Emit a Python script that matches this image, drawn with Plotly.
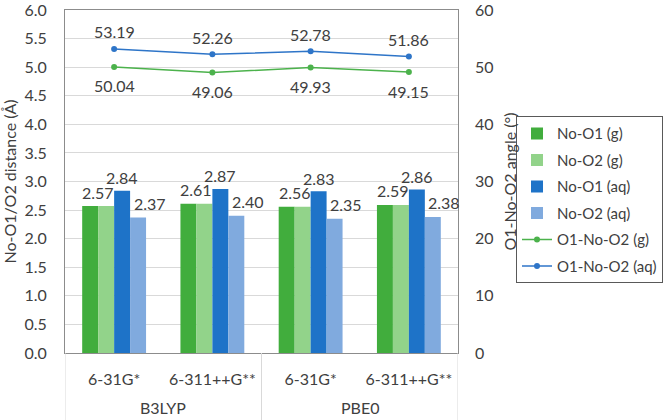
import plotly.graph_objects as go

methods = ["B3LYP", "B3LYP", "PBE0", "PBE0"]
basis = ["6-31G*", "6-311++G**", "6-31G*", "6-311++G**"]
no_o1_g = [2.57, 2.61, 2.56, 2.59]
no_o2_g = [2.57, 2.61, 2.56, 2.59]
no_o1_aq = [2.84, 2.87, 2.83, 2.86]
no_o2_aq = [2.37, 2.40, 2.35, 2.38]
angle_g = [50.04, 49.06, 49.93, 49.15]
angle_aq = [53.19, 52.26, 52.78, 51.86]
group_names = ["B3LYP", "PBE0"]

FONT = "Lato"
TXT = "#404040"
C_O1G = "#41AD3D"
C_O2G = "#92D38A"
C_O1AQ = "#1E73C8"
C_O2AQ = "#80AADE"
C_LG = "#4CB24C"
C_LAQ = "#2E75C8"

xs = list(range(len(basis)))
fig = go.Figure()
for name, vals, col in [("No-O1 (g)", no_o1_g, C_O1G), ("No-O2 (g)", no_o2_g, C_O2G),
                        ("No-O1 (aq)", no_o1_aq, C_O1AQ), ("No-O2 (aq)", no_o2_aq, C_O2AQ)]:
    fig.add_trace(go.Bar(x=xs, y=vals, name=name, legendgroup=name,
                         marker=dict(color=col, line=dict(width=0))))

fig.add_trace(go.Scatter(x=xs, y=angle_g, name="O1-No-O2 (g)", legendgroup="lg", yaxis="y2",
                         mode="lines+markers",
                         line=dict(color=C_LG, width=1.5), marker=dict(size=6, color=C_LG)))
fig.add_trace(go.Scatter(x=xs, y=angle_aq, name="O1-No-O2 (aq)", legendgroup="laq", yaxis="y2",
                         mode="lines+markers",
                         line=dict(color=C_LAQ, width=1.5), marker=dict(size=6, color=C_LAQ)))

bw = 0.65 / 4
ann = []
lf = dict(family=FONT, size=16, color=TXT)
for i in xs:
    ann.append(dict(x=i - bw, y=no_o1_g[i], xref="x", yref="y", text=f"{no_o1_g[i]:.2f}",
                    showarrow=False, yshift=14, font=lf))
    ann.append(dict(x=i + bw / 2, y=no_o1_aq[i], xref="x", yref="y", text=f"{no_o1_aq[i]:.2f}",
                    showarrow=False, yshift=13, font=lf))
    ann.append(dict(x=i + 0.36, y=no_o2_aq[i], xref="x", yref="y", text=f"{no_o2_aq[i]:.2f}",
                    showarrow=False, yshift=14, font=lf))
    ann.append(dict(x=i, y=angle_aq[i], xref="x", yref="y2", text=f"{angle_aq[i]:.2f}",
                    showarrow=False, yshift=17, font=lf))
    ann.append(dict(x=i, y=angle_g[i], xref="x", yref="y2", text=f"{angle_g[i]:.2f}",
                    showarrow=False, yshift=-19, font=lf))
for gi, g in enumerate(group_names):
    ann.append(dict(x=gi * 2 + 0.5, y=-0.16, xref="x", yref="paper", text=g, showarrow=False,
                    font=lf, yanchor="middle"))

shapes = []
for xv in [-0.5, 1.5, 3.5]:
    shapes.append(dict(type="line", xref="x", yref="paper", x0=xv, x1=xv, y0=0, y1=-0.2,
                       line=dict(color="#D9D9D9", width=1)))

fig.update_layout(
    width=666, height=420,
    margin=dict(l=65, r=208, t=10, b=67, autoexpand=False),
    paper_bgcolor="white", plot_bgcolor="white",
    font=dict(family=FONT, size=16, color=TXT),
    barmode="group", bargap=0.35, bargroupgap=0,
    showlegend=True,
    legend=dict(x=1.1476, y=0.69, xanchor="left", yanchor="top", traceorder="grouped",
                font=dict(family=FONT, size=15, color=TXT), itemwidth=30,
                bordercolor="#595959", borderwidth=1, bgcolor="white", tracegroupgap=4),
    xaxis=dict(range=[-0.5, 3.5], tickvals=xs, ticktext=basis, showgrid=False, zeroline=False,
               showline=True, linecolor="#8C8C8C", linewidth=1, mirror=True, ticks="",
               ticklabelstandoff=12, tickfont=lf, automargin=False),
    yaxis=dict(range=[0, 6], dtick=0.5, tickformat=".1f", showgrid=True, gridcolor="#D9D9D9",
               zeroline=False, showline=True, linecolor="#8C8C8C", linewidth=1, mirror=True,
               ticks="", ticklabelstandoff=14, tickfont=lf, automargin=False,
               ticklabeloverflow="allow",
               title=dict(text="No-O1/O2 distance (Å)", font=lf, standoff=6)),
    yaxis2=dict(range=[0, 60], dtick=10, overlaying="y", side="right", showgrid=False,
                zeroline=False, showline=False, ticks="", ticklabelstandoff=16, tickfont=lf,
                automargin=False, ticklabeloverflow="allow",
                title=dict(text="O1-No-O2 angle (°)", font=lf, standoff=12)),
    annotations=ann, shapes=shapes,
)
fig.write_html("out.html", config={"displayModeBar": False},
               post_script="document.body.style.margin='0';")
